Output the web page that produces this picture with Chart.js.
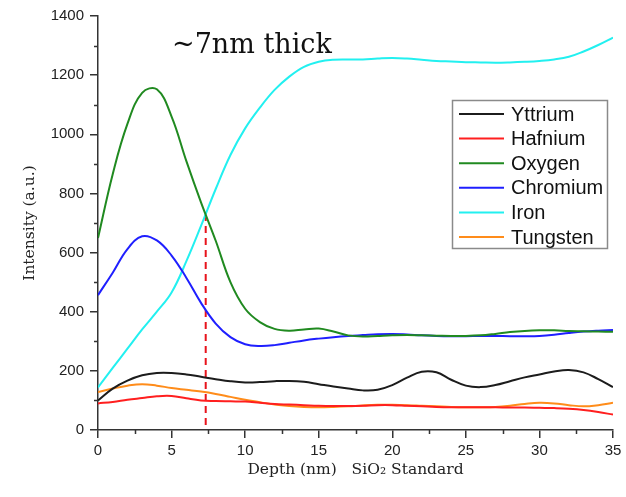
<!DOCTYPE html>
<html><head><meta charset="utf-8">
<style>html,body{margin:0;padding:0;background:#fff}</style>
</head><body>
<canvas id="c" width="626" height="497"></canvas>
<script src="https://cdn.jsdelivr.net/npm/chart.js@4/dist/chart.umd.min.js"></script>
<script>
const depth = [0,1,2,3,4,5,6,7,8,9,10,11,12,13,14,15,16,17,18,19,20,21,22,23,24,25,26,27,28,29,30,31,32,33,34,35];
const yttrium  = [100,140,167,185,193,193,188,180,172,165,161,162,165,166,163,155,147,140,134,136,152,177,197,195,170,150,145,152,165,178,188,198,203,195,172,145];
const hafnium  = [90,95,102,108,114,115,107,100,98,97,96,92,88,86,84,82,81,81,82,84,84,82,80,78,77,77,77,77,76,76,75,74,72,68,61,52];
const oxygen   = [649,865,1035,1140,1152,1060,910,770,640,500,410,365,342,336,340,343,333,320,316,318,320,321,320,319,318,318,320,325,331,335,337,337,335,334,333,332];
const chromium = [456,532,612,655,641,590,515,430,360,314,290,284,287,295,303,309,314,318,321,324,325,323,320,318,317,317,318,318,317,317,318,322,328,333,336,338];
const iron     = [144,210,275,340,400,465,570,690,815,930,1020,1090,1150,1195,1228,1245,1252,1253,1253,1256,1258,1256,1252,1248,1246,1244,1243,1242,1243,1245,1248,1253,1262,1280,1302,1327];
const tungsten = [128,140,150,155,150,142,136,130,122,112,102,94,86,81,78,77,78,80,83,85,85,84,82,80,78,77,77,78,82,88,92,90,84,80,84,92];
const seriesNames = ['Yttrium','Hafnium','Oxygen','Chromium','Iron','Tungsten'];
const seriesColors = ['#1c1c1c','#ff1f1f','#208a20','#1f1fff','#22f0f0','#ff8c1a'];
const markerDepth = [7.32, 7.32];
const markerIntensity = [17, 722];
const xMajorTicks = [0,5,10,15,20,25,30,35];
const yMajorTicks = [0,200,400,600,800,1000,1200,1400];
const annotationText = '~7nm thick';

const seriesValues = [yttrium, hafnium, oxygen, chromium, iron, tungsten];
const datasets = seriesValues.map((vals, i) => ({
  label: seriesNames[i],
  data: depth.map((d, j) => ({x: d, y: vals[j]})),
  borderColor: seriesColors[i],
  backgroundColor: seriesColors[i],
  borderWidth: 2,
  pointRadius: 0,
  tension: 0.4,
  fill: false
}));
datasets.push({
  label: 'marker',
  data: markerDepth.map((d, j) => ({x: d, y: markerIntensity[j]})),
  borderColor: '#e8131b',
  borderWidth: 2,
  borderDash: [7, 5],
  pointRadius: 0,
  tension: 0,
  fill: false
});

const extras = {
  id: 'extras',
  afterDraw(chart) {
    const ctx = chart.ctx;
    const xs = chart.scales.x, ys = chart.scales.y;
    const ca = chart.chartArea;
    ctx.save();
    ctx.strokeStyle = '#333';
    ctx.lineWidth = 1.5;
    ctx.beginPath();
    for (let v = 100; v < 1400; v += 200) {
      const py = Math.round(ys.getPixelForValue(v)) + 0.5;
      ctx.moveTo(ca.left, py); ctx.lineTo(ca.left - 4, py);
    }
    for (let v = 2.5; v < 35; v += 5) {
      const px = Math.round(xs.getPixelForValue(v)) + 0.5;
      ctx.moveTo(px, ca.bottom); ctx.lineTo(px, ca.bottom + 4);
    }
    ctx.stroke();
    ctx.fillStyle = '#111';
    ctx.font = '27px "DejaVu Serif"';
    ctx.textBaseline = 'alphabetic';
    ctx.textAlign = 'left';
    ctx.fillText(annotationText, xs.getPixelForValue(5.03), ys.getPixelForValue(1275));
    const bx = ca.right - 161, by = ca.top + 84, bw = 155, bh = 148;
    ctx.strokeStyle = '#8a8a8a';
    ctx.lineWidth = 1.5;
    ctx.strokeRect(bx + 0.5, by + 0.5, bw, bh);
    ctx.font = '20px "Liberation Sans"';
    ctx.textBaseline = 'middle';
    seriesNames.forEach((name, i) => {
      const cy = by + 14 + i * 24.6;
      ctx.strokeStyle = seriesColors[i];
      ctx.lineWidth = 2;
      ctx.beginPath();
      ctx.moveTo(bx + 7, cy); ctx.lineTo(bx + 52, cy);
      ctx.stroke();
      ctx.fillStyle = '#111';
      ctx.fillText(name, bx + 59, cy + 1);
    });
    ctx.restore();
  }
};

new Chart(document.getElementById('c'), {
  type: 'line',
  data: { datasets },
  options: {
    responsive: false,
    animation: false,
    layout: { padding: { top: 16, right: 13, left: 0, bottom: 0 } },
    plugins: { legend: { display: false }, tooltip: { enabled: false } },
    scales: {
      x: {
        type: 'linear', min: 0, max: 35,
        afterBuildTicks(s) { s.ticks = xMajorTicks.map(v => ({value: v})); },
        afterFit(s) { s.height = 67; },
        ticks: { color: '#222', font: { family: '"Liberation Sans"', size: 15 }, padding: 4, maxRotation: 0,
                 callback: v => String(v) },
        grid: { drawOnChartArea: false, drawTicks: true, tickLength: 8, color: '#333', lineWidth: 1.5 },
        border: { color: '#333', width: 1.5 },
        title: { display: true, text: 'Depth (nm)   SiO\u2082 Standard', color: '#222',
                 font: { family: '"DejaVu Serif"', size: 15.5 }, padding: { top: 0, bottom: 18 } }
      },
      y: {
        type: 'linear', min: 0, max: 1400,
        afterBuildTicks(s) { s.ticks = yMajorTicks.map(v => ({value: v})); },
        afterFit(s) { s.width = 98; },
        ticks: { color: '#222', font: { family: '"Liberation Sans"', size: 15 }, padding: 6,
                 callback: v => String(v) },
        grid: { drawOnChartArea: false, drawTicks: true, tickLength: 8, color: '#333', lineWidth: 1.5 },
        border: { color: '#333', width: 1.5 },
        title: { display: true, text: 'Intensity (a.u.)', color: '#222',
                 font: { family: '"DejaVu Serif"', size: 15.5 }, padding: { top: 21, bottom: 0 } }
      }
    }
  },
  plugins: [extras]
});
</script>
</body></html>
